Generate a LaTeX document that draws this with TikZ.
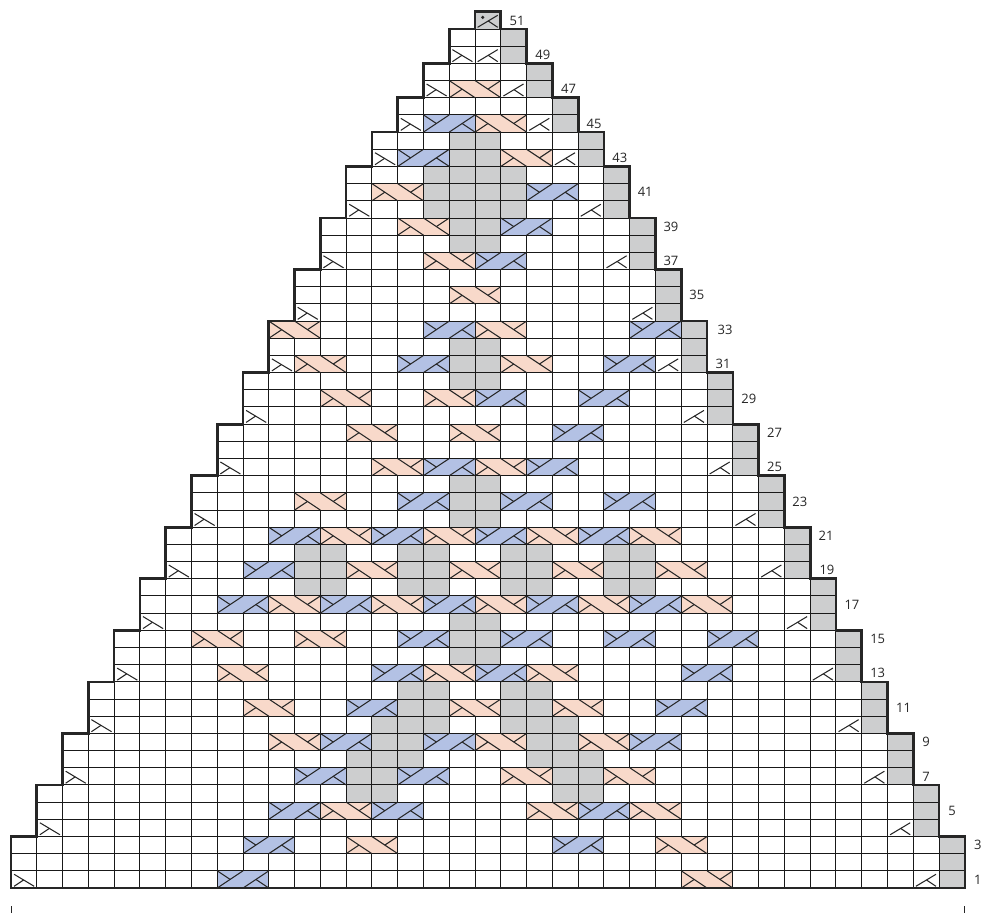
\documentclass[tikz,border=0pt]{standalone}
\usepackage{fontspec}
\setmainfont{Open Sans}

\definecolor{cablepink}{HTML}{F8D9CA}
\definecolor{cableblue}{HTML}{B3C1E4}
\definecolor{purlgray}{HTML}{CDCECF}

\tikzset{
  gridline/.style={line width=1pt, black!90},
  stitchmark/.style={line width=1.05pt, black!85},
  outline/.style={line width=2.7pt, black!85, line join=miter},
  rowlabel/.style={font=\fontsize{13}{15}\selectfont, text=black!85, inner sep=0pt},
  decleft/.pic={
    \draw[stitchmark] (0.12,0.8) -- (0.9,0.1);
    \draw[stitchmark] (0.12,0.1) -- (0.49,0.47);
  },
  decright/.pic={
    \draw[stitchmark] (0.88,0.8) -- (0.1,0.1);
    \draw[stitchmark] (0.88,0.1) -- (0.51,0.47);
  },
  cablepinkbox/.pic={
    \filldraw[gridline, fill=cablepink] (0,0) rectangle (2,1);
    \draw[stitchmark] (0,1) -- (1,0) (1,1) -- (2,0);
    \draw[stitchmark] (0,0) -- (0.5,0.5) (2,1) -- (1.5,0.5);
  },
  cablebluebox/.pic={
    \filldraw[gridline, fill=cableblue] (0,0) rectangle (2,1);
    \draw[stitchmark] (0,0) -- (1,1) (1,0) -- (2,1);
    \draw[stitchmark] (0,1) -- (0.5,0.5) (2,0) -- (1.5,0.5);
  },
}

\begin{document}
\begin{tikzpicture}[x=25.78pt, y=17.18pt]

\useasboundingbox (-0.4267,-1.4552) rectangle (37.665,51.69);

% === Edge stitches (right column of each step) ===
\foreach \lft/\lo/\hi in {0/0/3,1/3/6,2/6/9,3/9/12,4/12/15,5/15/18,6/18/21,7/21/24,8/24/27,9/27/30,
  10/30/33,11/33/36,12/36/39,13/39/42,14/42/44,15/44/46,16/46/48,17/48/50}
  \fill[purlgray] (36-\lft,\lo) rectangle (37-\lft,\hi);
\fill[purlgray] (18,50) rectangle (19,51);

% === Purl blocks ===
\foreach \xa/\ya/\xb/\yb in {17/42/19/44, 16/39/20/42, 17/37/19/39, 17/29/19/32, 17/21/19/24,
  11/17/13/20, 15/17/17/20, 19/17/21/20, 23/17/25/20, 17/13/19/16,
  15/9/17/12, 19/9/21/12, 14/9/15/10, 21/9/22/10, 14/8/16/9, 20/8/22/9,
  13/7/16/8, 20/7/23/8, 13/5/15/7, 21/5/23/7}
  \fill[purlgray] (\xa,\ya) rectangle (\xb,\yb);

% === Grid ===
\foreach \lft/\lo/\hi in {0/0/3,1/3/6,2/6/9,3/9/12,4/12/15,5/15/18,6/18/21,7/21/24,8/24/27,9/27/30,
  10/30/33,11/33/36,12/36/39,13/39/42,14/42/44,15/44/46,16/46/48,17/48/50,18/50/51}
  \draw[gridline, step=1] (\lft,\lo) grid (37-\lft,\hi);

% === Cables ===
\foreach \rowno/\cols in {47/{17},45/{18},43/{19},41/{14},39/{15},37/{16},35/{17},33/{10,18},31/{11,19},
  29/{12,16},27/{13,17},25/{14,18},23/{11},21/{12,16,20,24},19/{13,17,21,25},17/{10,14,18,22,26},
  15/{7,11},13/{8,16,20},11/{9,17,21},9/{10,18,22},7/{19,23},5/{12,20,24},3/{13,25},1/{26}}
  \foreach \c in \cols
    \pic at (\c,\rowno-1) {cablepinkbox};

\foreach \rowno/\cols in {45/{16},43/{15},41/{20},39/{19},37/{18},33/{16,24},31/{15,23},29/{18,22},
  27/{21},25/{16,20},23/{15,19,23},21/{10,14,18,22},19/{9},17/{8,12,16,20,24},15/{15,19,23,27},
  13/{14,18,26},11/{13,25},9/{12,16,24},7/{11,15},5/{10,14,22},3/{9,21},1/{8}}
  \foreach \c in \cols
    \pic at (\c,\rowno-1) {cablebluebox};

% === Decreases ===
\foreach \c/\rowno in {0/1,1/4,2/7,3/10,4/13,5/16,6/19,7/22,8/25,9/28,10/31,11/34,12/37,13/40,
  14/43,15/45,16/47,17/49} {
  \pic at (\c,\rowno-1) {decleft};
  \pic at (35-\c,\rowno-1) {decright};
}

% === Top stitch ===
\pic at (18,50) {decright};
\fill[black!85] (18.3,50.68) circle (1.7pt);

% === Outline ===
\draw[outline] (0,0) -- (0,3) -| (1,6) -| (2,9) -| (3,12) -| (4,15) -| (5,18) -| (6,21) -| (7,24)
  -| (8,27) -| (9,30) -| (10,33) -| (11,36) -| (12,39) -| (13,42) -| (14,44) -| (15,46) -| (16,48)
  -| (17,50) -| (18,51) -- (19,51) |- (20,50) |- (21,48) |- (22,46) |- (23,44) |- (24,42) |- (25,39)
  |- (26,36) |- (27,33) |- (28,30) |- (29,27) |- (30,24) |- (31,21) |- (32,18) |- (33,15) |- (34,12)
  |- (35,9) |- (36,6) |- (37,3) -- (37,0) -- cycle;

% === Row numbers ===
\foreach \rowno/\lblx in {51/19.63,49/20.63,47/21.63,45/22.62,43/23.62,41/24.6,39/25.6,37/25.6,
  35/26.6,33/27.7,31/27.62,29/28.62,27/29.62,25/29.62,23/30.6,21/31.62,19/31.65,17/32.62,15/33.62,
  13/33.62,11/34.62,9/35.5,7/35.5,5/36.5,3/37.5,1/37.5}
  \node[rowlabel] (row\rowno) at (\lblx,\rowno-0.5) {\rowno};

% === Width ticks ===
\draw[line width=1pt, black!85] (0,-1.05) -- (0,-1.4552);
\draw[line width=1pt, black!85] (37,-1.05) -- (37,-1.4552);

\end{tikzpicture}
\end{document}
